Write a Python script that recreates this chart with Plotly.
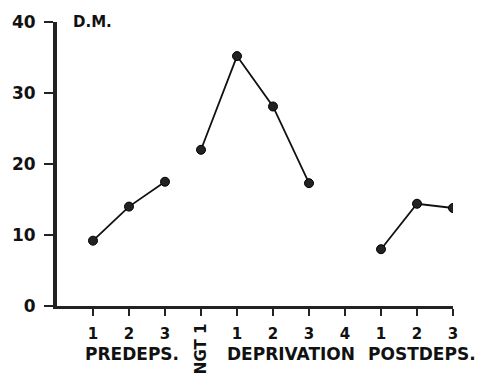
import plotly.graph_objects as go

# Data
x_pos = [1, 2, 3, 4, 5, 6, 7, 8, 9, 10, 11]
tick_labels = ["1", "2", "3", "", "1", "2", "3", "4", "1", "2", "3"]
predeps_x = [1, 2, 3]
predeps_y = [9.2, 14.0, 17.5]
depriv_x = [4, 5, 6, 7]
depriv_y = [22.0, 35.2, 28.1, 17.3]
postdeps_x = [9, 10, 11]
postdeps_y = [8.0, 14.4, 13.8]
group_labels = [("PREDEPS.", 2.08), ("DEPRIVATION", 6.5), ("POSTDEPS.", 10.15)]

FONT = "DejaVu Sans"

fig = go.Figure()
for xs, ys in [(predeps_x, predeps_y), (depriv_x, depriv_y), (postdeps_x, postdeps_y)]:
    fig.add_trace(go.Scatter(
        x=xs, y=ys, mode="lines+markers",
        line=dict(color="#111111", width=1.8),
        marker=dict(size=9, color="#222222", line=dict(color="#000000", width=1)),
        showlegend=False, hoverinfo="skip"))

fig.update_layout(
    width=492, height=381,
    margin=dict(l=57, r=39, t=20, b=75),
    paper_bgcolor="white", plot_bgcolor="white",
    font=dict(family=FONT, color="#111111"),
    xaxis=dict(
        range=[0, 11], showgrid=False, zeroline=False,
        showline=True, linecolor="#222222", linewidth=3,
        tickvals=x_pos, ticktext=tick_labels,
        ticks="outside", ticklen=7, tickwidth=2, tickcolor="#222222",
        tickfont=dict(family=FONT, size=15, color="#111111", weight="bold"),
        ticklabelstandoff=5, fixedrange=True),
    yaxis=dict(
        range=[0, 40], showgrid=False, zeroline=False,
        showline=True, linecolor="#222222", linewidth=4,
        tickvals=[0, 10, 20, 30, 40], ticktext=["0", "10", "20", "30", "40"],
        ticks="outside", ticklen=9, tickwidth=2, tickcolor="#222222",
        tickfont=dict(family=FONT, size=17, color="#111111", weight="bold"),
        ticklabelstandoff=5, fixedrange=True),
)

fig.add_annotation(x=0.4, y=40, xref="x", yref="y", text="D.M.", showarrow=False,
                   xanchor="left", yanchor="middle",
                   font=dict(family=FONT, size=15, color="#111111", weight="bold"))
fig.add_annotation(x=4, y=-0.152, xref="x", yref="paper", text="NGT 1", showarrow=False,
                   textangle=-90, xanchor="center", yanchor="middle",
                   font=dict(family=FONT, size=15, color="#111111", weight="bold"))
for label, xc in group_labels:
    fig.add_annotation(x=xc, y=-0.168, xref="x", yref="paper", text=label, showarrow=False,
                       xanchor="center", yanchor="middle",
                       font=dict(family=FONT, size=17, color="#111111", weight="bold"))

fig.write_html("out.html")
